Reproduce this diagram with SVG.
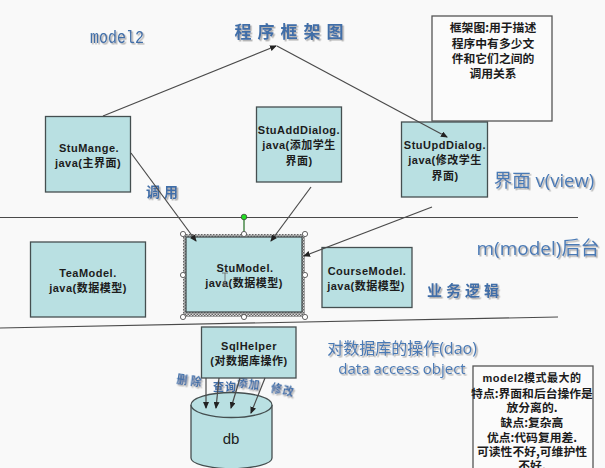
<svg xmlns="http://www.w3.org/2000/svg" width="605" height="468" viewBox="0 0 605 468">
<style>
.box{fill:#b9e0e2;stroke:#454f50;stroke-width:1.3}
.note{fill:#fbfbfb;stroke:#555;stroke-width:1.3}
.t{font-family:"Liberation Sans","Noto Sans CJK SC",sans-serif;font-size:11px;font-weight:bold;fill:#1c1c1c;text-anchor:middle;letter-spacing:.5px}
.c{font-family:"Noto Sans CJK SC","Liberation Sans",sans-serif;font-size:11.800px;font-weight:bold;fill:#1c1c1c;text-anchor:middle}
.h{font-family:"Noto Sans CJK SC","Liberation Serif",sans-serif;font-weight:bold;fill:#3f6ea8;filter:url(#sh);text-anchor:middle}
.l{font-family:"Open Sans","Noto Sans CJK SC",sans-serif;fill:#4a7ab5;filter:url(#sh);text-anchor:middle}
.line{fill:none;stroke:#4a4a4a;stroke-width:1.2}
.arr{fill:none;stroke:#4a4a4a;stroke-width:1.2;marker-end:url(#a)}
.hd{fill:#fff;stroke:#555;stroke-width:.9}
</style>
<defs>
<marker id="a" markerWidth="7" markerHeight="6" refX="6" refY="3" orient="auto" markerUnits="userSpaceOnUse"><path d="M0 0L7 3L0 6z" fill="#222"/></marker>
<pattern id="hatch" width="3" height="3" patternUnits="userSpaceOnUse"><rect width="3" height="3" fill="#d8d8d8"/><rect width="1.500" height="1.500" fill="#666"/><rect x="1.500" y="1.500" width="1.500" height="1.500" fill="#666"/></pattern>
<filter id="sh" x="-10%" y="-20%" width="125%" height="150%"><feDropShadow dx="1.500" dy="1.500" stdDeviation=".7" flood-color="#9a9a9a" flood-opacity=".8"/></filter>
</defs>
<rect width="605" height="468" fill="#f9f9f9"/>
<g id="separators">
<path class="line" d="M0 217.500H578"/>
<path class="line" d="M0 328L558 317"/>
</g>
<g id="labels">
<text class="h" x="117" y="43" font-size="19" style="font-family:'Liberation Mono',monospace;font-weight:normal" textLength="54" lengthAdjust="spacingAndGlyphs">model2</text>
<text class="h" x="292" y="38" font-size="17" letter-spacing="6">程序框架图</text>
<text class="h" x="164" y="197" font-size="14" letter-spacing="4">调用</text>
<text class="l" x="544" y="187" font-size="18.500">界面 v(view)</text>
<text class="l" x="538" y="255" font-size="19">m(model)后台</text>
<text class="h" x="465" y="296" font-size="15" letter-spacing="4">业务逻辑</text>
<text class="l" x="402" y="354" font-size="16">对数据库的操作(dao)</text>
<text class="l" x="402" y="374" font-size="15">data access object</text>
<text class="h" x="190" y="385" font-size="11" letter-spacing="3" transform="rotate(8 190 385)">删除</text>
<text class="h" x="225" y="391" font-size="11" letter-spacing="1">查询</text>
<text class="h" x="248" y="388" font-size="11" letter-spacing="1" transform="rotate(8 248 388)">添加</text>
<text class="h" x="282" y="394" font-size="11" letter-spacing="1" transform="rotate(12 282 394)">修改</text>
</g>
<g id="note1">
<rect class="note" x="432" y="16" width="120" height="105"/>
<text class="c" x="493" y="32">框架图:用于描述</text>
<text class="c" x="493" y="48">程序中有多少文</text>
<text class="c" x="493" y="63">件和它们之间的</text>
<text class="c" x="493" y="78">调用关系</text>
</g>
<g id="StuMange">
<rect class="box" x="45.500" y="116.500" width="85" height="75.500"/>
<text class="t" x="89" y="152">StuMange.</text>
<text class="t" x="88" y="167">java(主界面)</text>
</g>
<g id="StuAddDialog">
<rect class="box" x="256.500" y="107" width="85" height="75"/>
<text class="t" x="299" y="134" letter-spacing=".2">StuAddDialog.</text>
<text class="t" x="299" y="149">java(添加学生</text>
<text class="t" x="299" y="165">界面)</text>
</g>
<g id="StuUpdDialog">
<rect class="box" x="401.500" y="122" width="86" height="75"/>
<text class="t" x="445" y="149" letter-spacing=".2">StuUpdDialog.</text>
<text class="t" x="445" y="164">java(修改学生</text>
<text class="t" x="445" y="180">界面)</text>
</g>
<g id="TeaModel">
<rect class="box" x="30.500" y="242" width="115" height="75"/>
<text class="t" x="88" y="277">TeaModel.</text>
<text class="t" x="88" y="292">java(数据模型)</text>
</g>
<g id="StuModel">
<rect x="183" y="234" width="122" height="83" fill="url(#hatch)"/>
<rect class="box" x="186" y="237" width="116" height="75"/>
<text class="t" x="245" y="272">StuModel.</text>
<text class="t" x="244" y="287">java(数据模型)</text>
<path d="M222 273H228M225 273V285M222 285H228" stroke="#777" stroke-width="1" fill="none"/>
<path d="M244 217V234" stroke="#4a8a4a" stroke-width="1.500"/>
<circle cx="244" cy="217" r="2.800" fill="#22dd22" stroke="#444" stroke-width=".8"/>
<circle class="hd" cx="183" cy="234" r="2.600"/><circle class="hd" cx="244" cy="234" r="2.600"/><circle class="hd" cx="305" cy="234" r="2.600"/>
<circle class="hd" cx="183" cy="275" r="2.600"/><circle class="hd" cx="305" cy="275" r="2.600"/>
<circle class="hd" cx="183" cy="317" r="2.600"/><circle class="hd" cx="244" cy="317" r="2.600"/><circle class="hd" cx="305" cy="317" r="2.600"/>
</g>
<g id="CourseModel">
<rect class="box" x="322" y="247.500" width="90" height="60"/>
<text class="t" x="367" y="275">CourseModel.</text>
<text class="t" x="366" y="290" letter-spacing=".2">java(数据模型)</text>
</g>
<g id="SqlHelper">
<rect class="box" x="201.500" y="327" width="94.500" height="51"/>
<text class="t" x="249" y="350">SqlHelper</text>
<text class="t" x="249" y="365" letter-spacing=".2">(对数据库操作)</text>
</g>
<g id="db">
<path class="box" d="M191 405V458C191 464 208 468 231.500 469C255 468 272 464 272 458V405"/>
<ellipse class="box" cx="231.500" cy="405" rx="40.500" ry="12.500"/>
<text x="231" y="444" text-anchor="middle" font-family="Liberation Sans,sans-serif" font-size="15" fill="#1c1c1c">db</text>
</g>
<g id="note2">
<rect class="note" x="473" y="366" width="120" height="110"/>
<text class="t" x="532" y="382">model2模式最大的</text>
<text class="c" x="532" y="398">特点:界面和后台操作是</text>
<text class="c" x="532" y="412">放分离的.</text>
<text class="c" x="532" y="427">缺点:复杂高</text>
<text class="c" x="532" y="442">优点:代码复用差.</text>
<text class="c" x="532" y="456">可读性不好,可维护性</text>
<text class="c" x="532" y="470">不好.</text>
</g>
<g id="connectors">
<path class="arr" d="M103 116L276 46"/>
<path class="arr" d="M277 46L447 137"/>
<path class="arr" d="M131 153L196 241"/>
<path class="arr" d="M311 187L271 241"/>
<path class="arr" d="M432 207L304 256"/>
<path class="arr" d="M206 378V408"/>
<path class="arr" d="M219 378L216 408"/>
<path class="arr" d="M240 378L231 408"/>
<path class="arr" d="M265 378L251 413"/>
</g>
</svg>
